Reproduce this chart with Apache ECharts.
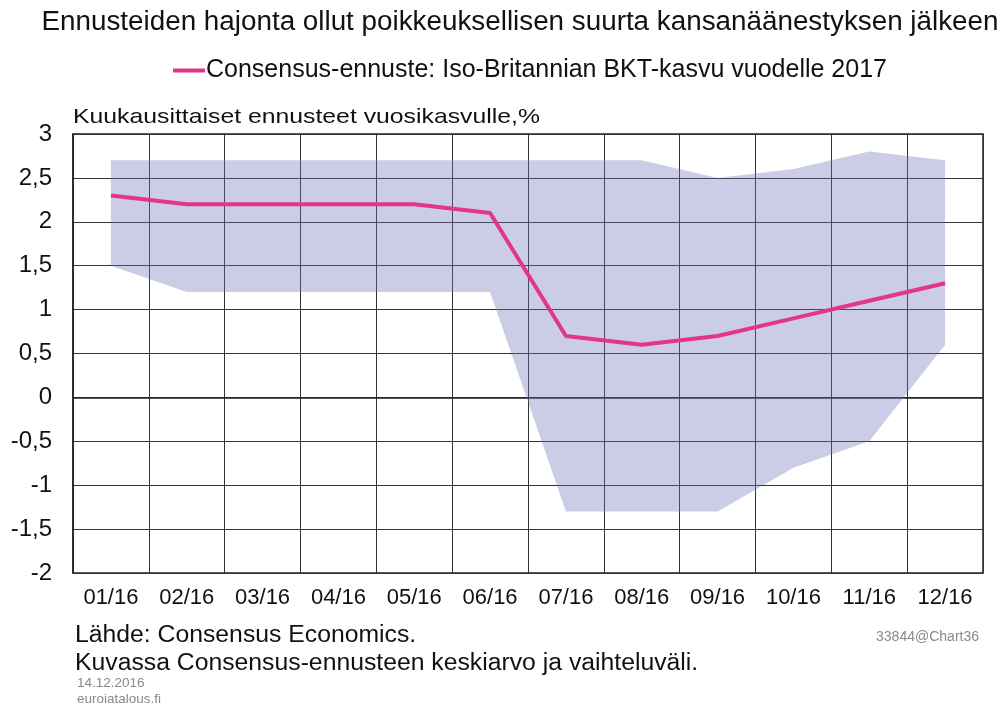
<!DOCTYPE html>
<html>
<head>
<meta charset="utf-8">
<script src="https://cdn.jsdelivr.net/npm/echarts@6/dist/echarts.min.js"></script>
<style>
  html, body { margin: 0; padding: 0; background: #fff; }
  #chart { width: 1004px; height: 705px; }
</style>
</head>
<body>
<div id="chart"></div>
<script>
const months = ['01/16', '02/16', '03/16', '04/16', '05/16', '06/16', '07/16', '08/16', '09/16', '10/16', '11/16', '12/16'];
// consensus mean forecast
const consensus = [2.3, 2.2, 2.2, 2.2, 2.2, 2.1, 0.7, 0.6, 0.7, 0.9, 1.1, 1.3];
// range of forecasts (min / max)
const rangeLow = [1.5, 1.2, 1.2, 1.2, 1.2, 1.2, -1.3, -1.3, -1.3, -0.8, -0.5, 0.6];
const rangeHigh = [2.7, 2.7, 2.7, 2.7, 2.7, 2.7, 2.7, 2.7, 2.5, 2.6, 2.8, 2.7];

const chart = echarts.init(document.getElementById('chart'));
const font = '"Liberation Sans", Arial, sans-serif';
const lineName = 'Consensus-ennuste: Iso-Britannian BKT-kasvu vuodelle 2017';

const option = {
  animation: false,
  textStyle: { fontFamily: font },
  legend: {
    data: [lineName],
    left: 168, top: 53,
    itemWidth: 32, itemHeight: 4, itemGap: 4,
    icon: 'rect',
    textStyle: { fontFamily: font, fontSize: 25, color: '#111', padding: [0, 0, 0, -4] }
  },
  graphic: [
    {
      type: 'text', x: 520, y: 23, scaleX: 1.03,
      style: {
        text: 'Ennusteiden hajonta ollut poikkeuksellisen suurta kansanäänestyksen jälkeen',
        font: '27px ' + font, fill: '#111', textAlign: 'center', textVerticalAlign: 'middle'
      }
    },
    {
      type: 'text', x: 73, y: 117, scaleX: 1.18,
      style: { text: 'Kuukausittaiset ennusteet vuosikasvulle,%', font: '21px ' + font, fill: '#111', textVerticalAlign: 'middle' }
    },
    { type: 'text', x: 75, y: 635, style: { text: 'Lähde: Consensus Economics.', font: '24.75px ' + font, fill: '#111', textVerticalAlign: 'middle' } },
    { type: 'text', x: 75, y: 663, style: { text: 'Kuvassa Consensus-ennusteen keskiarvo ja vaihteluväli.', font: '24.75px ' + font, fill: '#111', textVerticalAlign: 'middle' } },
    { type: 'text', x: 77, y: 683, style: { text: '14.12.2016', font: '13.5px ' + font, fill: '#8a8a8a', textVerticalAlign: 'middle' } },
    { type: 'text', x: 77, y: 699, style: { text: 'euroiatalous.fi', font: '13.5px ' + font, fill: '#8a8a8a', textVerticalAlign: 'middle' } },
    { type: 'text', x: 979, y: 637, style: { text: '33844@Chart36', font: '14px ' + font, fill: '#8a8a8a', textAlign: 'right', textVerticalAlign: 'middle' } }
  ],
  grid: {
    left: 73, right: 21, top: 134, bottom: 132,
    show: true, borderColor: '#222', borderWidth: 1.5
  },
  xAxis: {
    type: 'category',
    data: months,
    boundaryGap: true,
    axisLine: { show: true, lineStyle: { color: '#222', width: 1.5 } },
    axisTick: { show: false },
    axisLabel: { color: '#111', fontSize: 22, margin: 14, fontFamily: font },
    splitLine: { show: true, lineStyle: { color: '#333', width: 1 } }
  },
  yAxis: {
    type: 'value',
    min: -2, max: 3, interval: 0.5,
    axisLine: { show: true, lineStyle: { color: '#222', width: 1.5 } },
    axisTick: { show: false },
    axisLabel: {
      color: '#111', fontSize: 24, margin: 21, fontFamily: font,
      formatter: v => String(v).replace('.', ',')
    },
    splitLine: { show: true, lineStyle: { color: '#333', width: 1 } }
  },
  series: [
    {
      name: 'low',
      type: 'line',
      data: rangeLow,
      stack: 'range',
      stackStrategy: 'all',
      symbol: 'none',
      lineStyle: { opacity: 0 },
      silent: true
    },
    {
      name: 'range',
      type: 'line',
      data: rangeHigh.map((h, i) => +(h - rangeLow[i]).toFixed(2)),
      stack: 'range',
      stackStrategy: 'all',
      symbol: 'none',
      lineStyle: { opacity: 0 },
      areaStyle: { color: 'rgba(110, 115, 185, 0.36)', opacity: 1 },
      silent: true
    },
    {
      name: lineName,
      type: 'line',
      data: consensus,
      symbol: 'none',
      itemStyle: { color: '#e2368c' },
      lineStyle: { color: '#e2368c', width: 4 },
      z: 5
    }
  ]
};

chart.setOption(option);
</script>
</body>
</html>
